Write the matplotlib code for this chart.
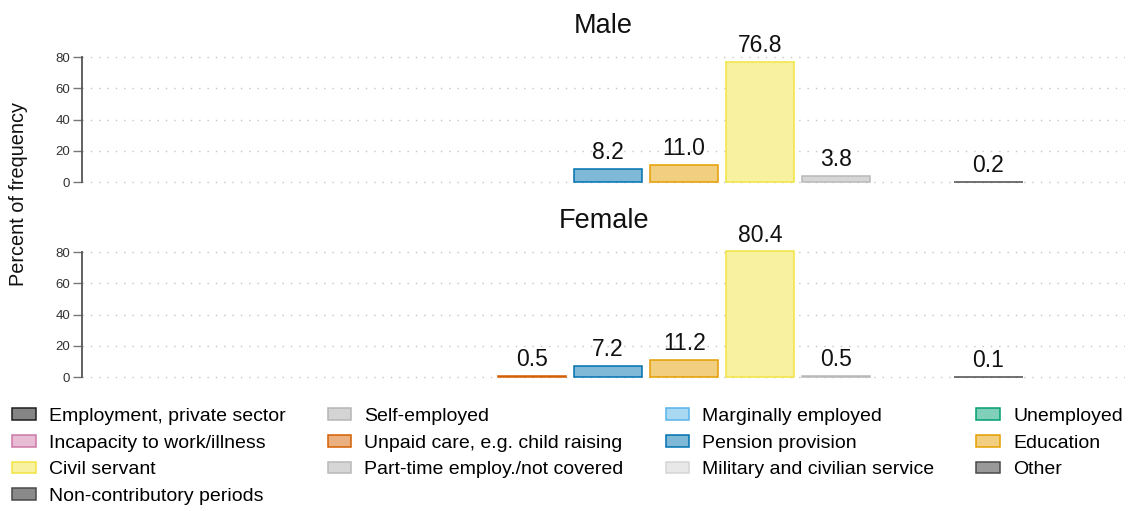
import numpy as np
import matplotlib
matplotlib.use('Agg')
import matplotlib.pyplot as plt
from matplotlib.patches import Patch

plt.rcParams['font.family'] = ['Liberation Sans', 'DejaVu Sans']

categories = [
    'Employment, private sector', 'Self-employed', 'Marginally employed', 'Unemployed',
    'Incapacity to work/illness', 'Unpaid care, e.g. child raising', 'Pension provision',
    'Education', 'Civil servant', 'Part-time employ./not covered',
    'Military and civilian service', 'Other', 'Non-contributory periods',
]
male = [None, None, None, None, None, None, 8.2, 11.0, 76.8, 3.8, None, 0.2, None]
female = [None, None, None, None, None, 0.5, 7.2, 11.2, 80.4, 0.5, None, 0.1, None]
panels = ['Male', 'Female']
yticks = [0, 20, 40, 60, 80]

face_colors = ['#858585', '#d4d4d4', '#a9d8f3', '#80cfb9', '#e8bcd4', '#eab080', '#80b8d8',
               '#f2cf80', '#f8f2a0', '#d6d6d6', '#e8e8e8', '#999999', '#8a8a8a']
edge_colors = ['#1e1e1e', '#b5b5b5', '#56b4e9', '#009e73', '#cc79a7', '#d55e00', '#0072b2',
               '#e69f00', '#f0e442', '#b8b8b8', '#d5d5d5', '#4a4a4a', '#4a4a4a']

fig = plt.figure(figsize=(11.29, 5.11), dpi=100)

ax_rects = [[0.0726, 0.6346, 0.924, 0.2996], [0.0726, 0.2530, 0.924, 0.2996]]
x = np.arange(len(categories))

for rect, name, vals in zip(ax_rects, panels, [male, female]):
    ax = fig.add_axes(rect)
    ax.set_xlim(-0.92, 12.8)
    ax.set_ylim(-3, 95)
    for yt in yticks:
        ax.axhline(yt, color='#c4c4c4', linestyle=(0, (1, 5)), linewidth=1, zorder=0)
    for i, v in enumerate(vals):
        if v is None:
            continue
        ax.bar(x[i], v, width=0.9, color=face_colors[i], edgecolor=edge_colors[i],
               linewidth=1.1, zorder=2)
        ax.annotate(f'{v:.1f}', (x[i], v), xytext=(0, 3.5), textcoords='offset points',
                    ha='center', va='bottom', fontsize=16.5, color='#111111')
    ax.set_yticks(yticks)
    ax.set_xticks([])
    ax.tick_params(axis='y', length=6.5, width=1, color='#777777', labelsize=9.5,
                   labelcolor='#333333', pad=2)
    for s in ['top', 'right', 'bottom']:
        ax.spines[s].set_visible(False)
    ax.spines['left'].set_bounds(0, 80)
    ax.spines['left'].set_color('#555555')
    ax.spines['left'].set_linewidth(1.3)
    ax.set_title(name, fontsize=19.5, y=1.006, pad=0, color='#111111')

fig.text(0.016, 1 - 194 / 511, 'Percent of frequency', rotation=90, ha='center', va='center',
         fontsize=14.3, color='#111111')

handles = [Patch(facecolor=f, edgecolor=e, linewidth=1.1) for f, e in zip(face_colors, edge_colors)]
# matplotlib fills legend columns first, so reorder to get row-wise order
order = [0, 4, 8, 12, 1, 5, 9, 2, 6, 10, 3, 7, 11]
fig.legend([handles[i] for i in order], [categories[i] for i in order],
           loc='upper left', bbox_to_anchor=(12 / 1129, 1 - 408 / 511), ncol=4, frameon=False,
           fontsize=14, handlelength=1.23, handleheight=0.56, handletextpad=0.67,
           labelspacing=0.5, columnspacing=2.15, borderpad=0, borderaxespad=0)

fig.savefig('out.png', dpi=100)
